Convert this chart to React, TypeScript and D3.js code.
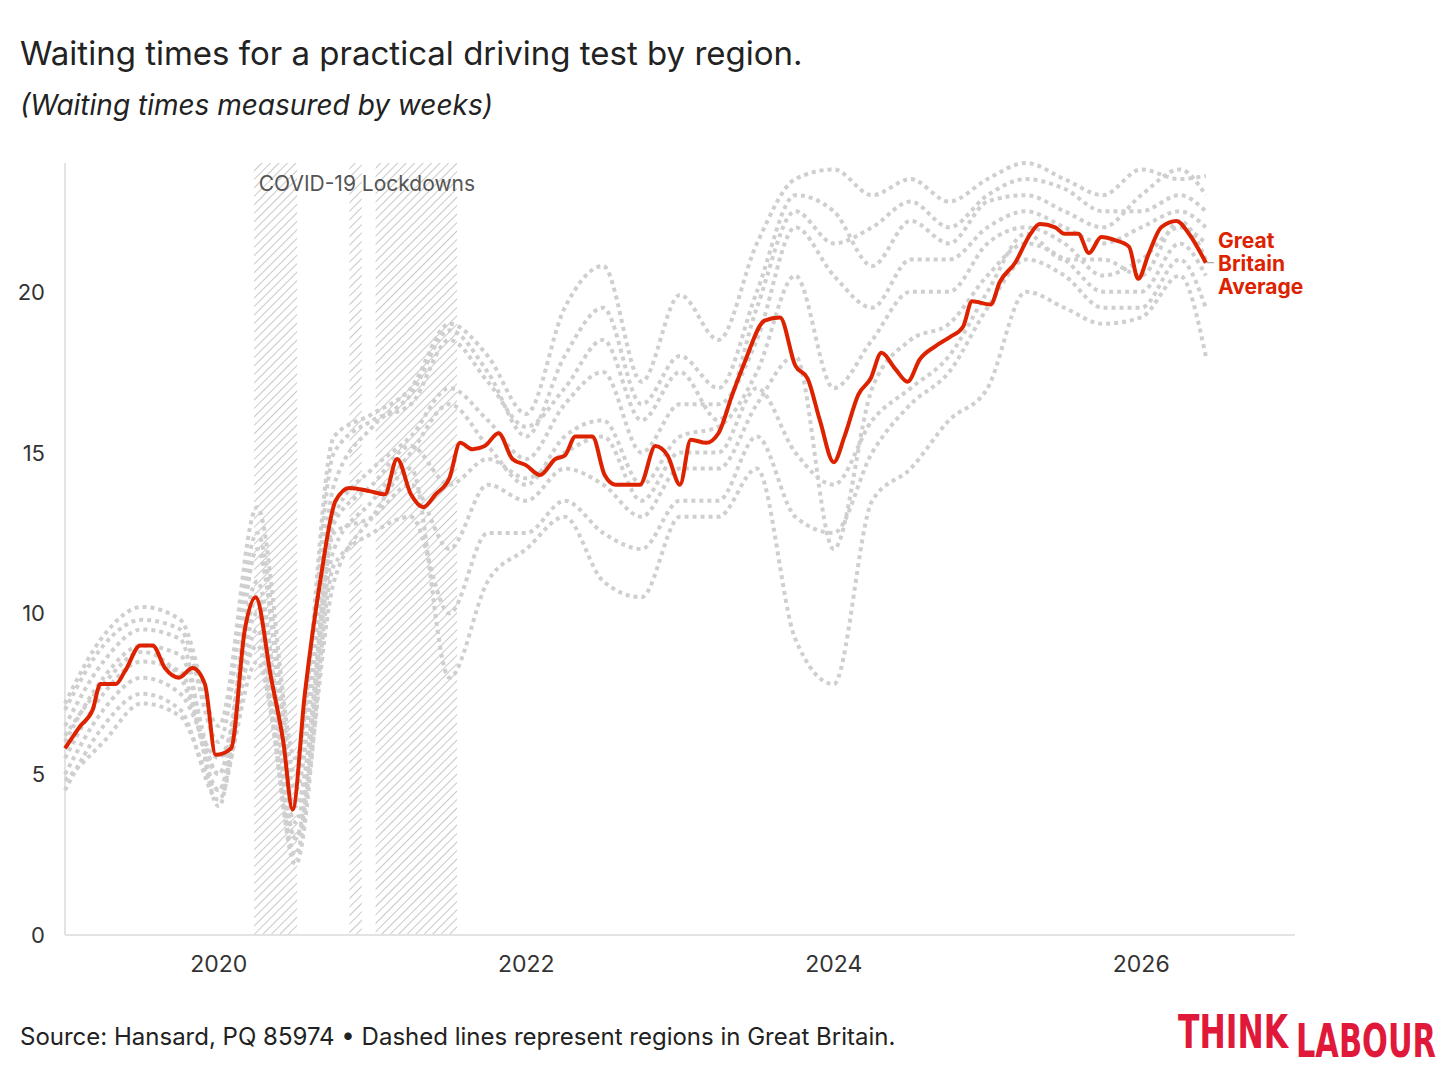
import React, { useEffect, useRef } from "react";
import * as d3 from "d3";

// GB average (decimal year, weeks)
const avgYears = [2019.0, 2019.1, 2019.18, 2019.23, 2019.33, 2019.39, 2019.49, 2019.57, 2019.65, 2019.74, 2019.83, 2019.91, 2019.98, 2020.08, 2020.17, 2020.24, 2020.34, 2020.42, 2020.48, 2020.56, 2020.66, 2020.76, 2020.85, 2020.98, 2021.08, 2021.16, 2021.25, 2021.33, 2021.41, 2021.5, 2021.57, 2021.65, 2021.73, 2021.82, 2021.91, 2022.0, 2022.09, 2022.19, 2022.25, 2022.32, 2022.43, 2022.51, 2022.58, 2022.74, 2022.84, 2022.92, 2023.0, 2023.07, 2023.17, 2023.25, 2023.34, 2023.42, 2023.55, 2023.65, 2023.75, 2023.83, 2023.91, 2024.0, 2024.07, 2024.16, 2024.24, 2024.31, 2024.4, 2024.48, 2024.56, 2024.66, 2024.76, 2024.84, 2024.9, 2025.02, 2025.08, 2025.18, 2025.28, 2025.34, 2025.44, 2025.5, 2025.59, 2025.66, 2025.74, 2025.83, 2025.92, 2025.98, 2026.05, 2026.13, 2026.23, 2026.31, 2026.42];
const avgValues = [5.8, 6.5, 7.0, 7.8, 7.8, 8.2, 9.0, 9.0, 8.3, 8.0, 8.3, 7.8, 5.6, 5.8, 9.5, 10.5, 8.0, 6.0, 3.9, 7.5, 11.0, 13.5, 13.9, 13.8, 13.7, 14.8, 13.7, 13.3, 13.7, 14.2, 15.3, 15.1, 15.2, 15.6, 14.8, 14.6, 14.3, 14.8, 14.9, 15.5, 15.5, 14.3, 14.0, 14.0, 15.2, 14.9, 14.0, 15.4, 15.3, 15.6, 16.8, 17.8, 19.1, 19.2, 17.7, 17.3, 16.0, 14.7, 15.5, 16.8, 17.3, 18.1, 17.6, 17.2, 17.9, 18.3, 18.6, 18.9, 19.7, 19.6, 20.3, 20.9, 21.8, 22.1, 22.0, 21.8, 21.8, 21.2, 21.7, 21.6, 21.4, 20.4, 21.2, 22.0, 22.2, 21.8, 20.9];

// regions, quarterly
const regionYears = [2019.0, 2019.25, 2019.5, 2019.75, 2020.0, 2020.25, 2020.5, 2020.75, 2021.0, 2021.25, 2021.5, 2021.75, 2022.0, 2022.25, 2022.5, 2022.75, 2023.0, 2023.25, 2023.5, 2023.75, 2024.0, 2024.25, 2024.5, 2024.75, 2025.0, 2025.25, 2025.5, 2025.75, 2026.0, 2026.25, 2026.42];
const region1 = [7.2, 9.3, 10.2, 9.8, 6.5, 13.3, 5.5, 15.5, 16.2, 17.0, 19.0, 18.0, 16.2, 19.5, 20.8, 17.2, 19.9, 18.5, 21.5, 23.5, 23.8, 23.0, 23.5, 22.8, 23.5, 24.0, 23.5, 23.0, 23.8, 23.5, 23.6];
const region2 = [6.5, 8.5, 9.5, 9.2, 4.0, 12.0, 4.5, 14.0, 15.8, 16.8, 18.8, 17.5, 15.5, 18.0, 19.5, 16.5, 18.0, 17.0, 20.0, 23.0, 22.5, 20.8, 22.2, 21.5, 22.8, 23.0, 22.5, 22.0, 23.0, 23.8, 23.0];
const region3 = [6.0, 8.0, 9.0, 8.7, 5.0, 11.0, 3.0, 13.0, 14.5, 15.5, 17.0, 16.0, 14.8, 16.5, 17.5, 15.0, 16.5, 16.5, 18.5, 22.0, 20.5, 19.5, 21.0, 21.0, 22.0, 22.5, 22.0, 21.5, 22.0, 22.5, 22.0];
const region4 = [5.5, 7.5, 8.5, 8.2, 4.5, 10.5, 4.0, 12.0, 13.5, 15.0, 16.5, 15.2, 14.0, 15.5, 16.0, 14.0, 15.5, 15.8, 17.5, 20.5, 17.0, 18.5, 20.0, 20.0, 21.5, 22.0, 21.5, 20.5, 21.0, 22.0, 21.5];
const region5 = [5.0, 7.0, 8.0, 7.5, 5.5, 9.0, 2.5, 12.5, 13.0, 14.0, 12.0, 14.0, 13.5, 14.5, 14.0, 13.0, 14.5, 14.5, 16.5, 18.0, 12.0, 17.0, 18.5, 19.0, 20.5, 21.5, 21.0, 20.0, 20.0, 21.5, 20.5];
const region6 = [4.5, 6.5, 7.5, 7.0, 4.2, 9.5, 2.2, 11.5, 12.5, 13.0, 10.0, 12.5, 12.5, 13.5, 12.5, 12.0, 13.5, 13.5, 15.5, 13.0, 12.5, 15.0, 16.5, 17.5, 19.5, 21.0, 20.5, 19.5, 19.5, 21.0, 19.5];
const region7 = [4.8, 6.0, 7.2, 6.8, 4.5, 8.5, 3.0, 11.0, 13.0, 14.5, 8.0, 11.0, 12.0, 13.0, 11.0, 10.5, 13.0, 13.0, 14.5, 9.2, 7.8, 13.5, 14.5, 16.0, 17.0, 20.0, 19.5, 19.0, 19.2, 20.5, 18.0];
const region8 = [7.0, 9.0, 9.8, 9.5, 6.0, 12.5, 5.0, 15.0, 16.0, 16.5, 18.5, 17.2, 15.8, 17.0, 18.5, 16.0, 17.5, 16.0, 19.5, 22.5, 21.5, 22.0, 22.8, 22.0, 23.0, 23.5, 23.2, 22.5, 22.5, 23.0, 22.5];
const region9 = [6.2, 7.8, 8.8, 8.0, 5.0, 10.0, 3.5, 12.8, 14.0, 15.2, 14.0, 14.8, 14.2, 15.0, 15.5, 13.5, 15.0, 15.0, 17.0, 15.0, 14.0, 16.0, 17.0, 18.0, 20.0, 21.8, 21.0, 21.0, 20.5, 22.2, 21.0];
const regions = [region1, region2, region3, region4, region5, region6, region7, region8, region9];

const lockdowns: [number, number][] = [[2020.23, 2020.51], [2020.85, 2020.93], [2021.02, 2021.55]];
const xTicks = [2020, 2022, 2024, 2026];
const yTicks = [0, 5, 10, 15, 20];

const W = 1456;
const H = 1084;
const font = "Inter, 'Noto Sans', sans-serif";

export default function App() {
  const ref = useRef<SVGSVGElement | null>(null);

  useEffect(() => {
    document.body.style.margin = "0";
    const svg = d3.select(ref.current);
    svg.selectAll("*").remove();

    const x = d3.scaleLinear().domain([2019, 2027]).range([65, 1295]);
    const y = d3.scaleLinear().domain([0, 24]).range([935, 163]);

    const pat = svg.append("defs").append("pattern")
      .attr("id", "hatch").attr("width", 6).attr("height", 6)
      .attr("patternUnits", "userSpaceOnUse").attr("patternTransform", "rotate(45)");
    pat.append("line").attr("x1", 0).attr("y1", 0).attr("x2", 0).attr("y2", 6)
      .attr("stroke", "#c8c8c8").attr("stroke-width", 2);

    svg.selectAll(".lock").data(lockdowns).enter().append("rect")
      .attr("x", (d) => x(d[0])).attr("width", (d) => x(d[1]) - x(d[0]))
      .attr("y", y(24)).attr("height", y(0) - y(24)).attr("fill", "url(#hatch)");

    svg.append("text").attr("x", x(2020.26)).attr("y", 191)
      .attr("font-family", font).attr("font-size", 21).attr("fill", "#555")
      .text("COVID-19 Lockdowns");

    // axes
    svg.append("line").attr("x1", 65).attr("x2", 65).attr("y1", 163).attr("y2", 935).attr("stroke", "#e3e3e3").attr("stroke-width", 2);
    svg.append("line").attr("x1", 65).attr("x2", 1295).attr("y1", 935).attr("y2", 935).attr("stroke", "#e3e3e3").attr("stroke-width", 2);
    svg.selectAll(".yt").data(yTicks).enter().append("text")
      .attr("x", 45).attr("y", (d) => y(d) + 8).attr("text-anchor", "end")
      .attr("font-family", font).attr("font-size", 22).attr("fill", "#333").text((d) => d);
    svg.selectAll(".xt").data(xTicks).enter().append("text")
      .attr("x", (d) => x(d)).attr("y", 972).attr("text-anchor", "middle")
      .attr("font-family", font).attr("font-size", 23).attr("fill", "#333").text((d) => d);

    const rline = d3.line<number>().x((_, i) => x(regionYears[i])).y((d) => y(d)).curve(d3.curveMonotoneX);
    svg.selectAll(".reg").data(regions).enter().append("path")
      .attr("d", (d) => rline(d)).attr("fill", "none").attr("stroke", "#cfcfcf")
      .attr("stroke-width", 4).attr("stroke-dasharray", "4 4");

    const aline = d3.line<number>().x((_, i) => x(avgYears[i])).y((d) => y(d)).curve(d3.curveMonotoneX);
    svg.append("path").attr("d", aline(avgValues)).attr("fill", "none")
      .attr("stroke", "#dd2200").attr("stroke-width", 4);

    const last = avgValues.length - 1;
    svg.append("line").attr("x1", x(avgYears[last])).attr("x2", 1214)
      .attr("y1", y(avgValues[last])).attr("y2", y(avgValues[last])).attr("stroke", "#999");
    ["Great", "Britain", "Average"].forEach((t, i) => {
      svg.append("text").attr("x", 1218).attr("y", 248 + i * 23)
        .attr("font-family", font).attr("font-size", 21).attr("font-weight", 700)
        .attr("fill", "#dd2200").text(t);
    });

    svg.append("text").attr("x", 20).attr("y", 65).attr("font-family", font)
      .attr("font-size", 33).attr("fill", "#222").text("Waiting times for a practical driving test by region.");
    svg.append("text").attr("x", 20).attr("y", 115).attr("font-family", font)
      .attr("font-size", 28).attr("font-style", "italic").attr("fill", "#222").text("(Waiting times measured by weeks)");
    svg.append("text").attr("x", 20).attr("y", 1045).attr("font-family", font)
      .attr("font-size", 24).attr("fill", "#222").text("Source: Hansard, PQ 85974 • Dashed lines represent regions in Great Britain.");

    const logo = "'Liberation Sans Narrow', 'DejaVu Sans Condensed', sans-serif";
    svg.append("text").attr("x", 1178).attr("y", 1048).attr("font-family", logo)
      .attr("font-size", 46).attr("font-weight", 700).attr("fill", "#e0193a")
      .attr("textLength", 110).attr("lengthAdjust", "spacingAndGlyphs").text("THINK");
    svg.append("text").attr("x", 1296).attr("y", 1057).attr("font-family", logo)
      .attr("font-size", 46).attr("font-weight", 700).attr("fill", "#e0193a")
      .attr("textLength", 140).attr("lengthAdjust", "spacingAndGlyphs").text("LABOUR");
  }, []);

  return <svg ref={ref} width={W} height={H} style={{ display: "block", background: "#fff" }} />;
}
